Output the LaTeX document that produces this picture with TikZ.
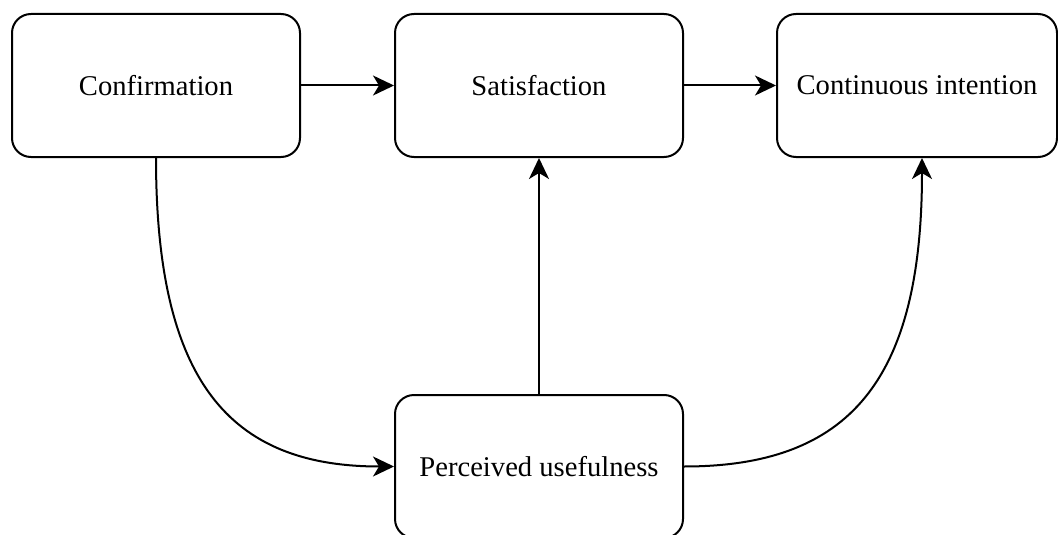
\documentclass[tikz,border=0pt]{standalone}
\usepackage{fontspec}
\setmainfont{Liberation Serif}
\usetikzlibrary{arrows.meta}

\begin{document}
\begin{tikzpicture}[
  x=1pt, y=-1pt,
  box/.style={draw=black, line width=2pt, rounded corners=19pt,
    minimum width=288pt, minimum height=143pt, inner sep=0pt,
    font=\fontsize{28.6}{34}\selectfont},
  arr/.style={line width=2pt, -{Stealth[length=21pt, width=20pt, inset=6pt]}}
]
\useasboundingbox (0,0) rectangle (1058,535);
\clip (0,0) rectangle (1058,535);

% constructs
\node[box] (conf) at (156,85.5) {Confirmation};
\node[box] (sat) at (539,85.5) {Satisfaction};
\node[box, minimum width=280pt] (ci) at (917,85.5) {Continuous intention};
\node[box] (pu) at (539,466.5) {Perceived usefulness};

% direct paths
\draw[arr] (conf.east) -- (sat.west);
\draw[arr] (sat.east) -- (ci.west);
\draw[arr] (pu.north) -- (sat.south);

% curved paths
\draw[arr] (conf.south) .. controls +(0,223) and +(-165,0) .. (pu.west);
\draw[arr] (pu.east) .. controls +(165,0) and +(0,223) .. ([xshift=5pt]ci.south);
\end{tikzpicture}
\end{document}
